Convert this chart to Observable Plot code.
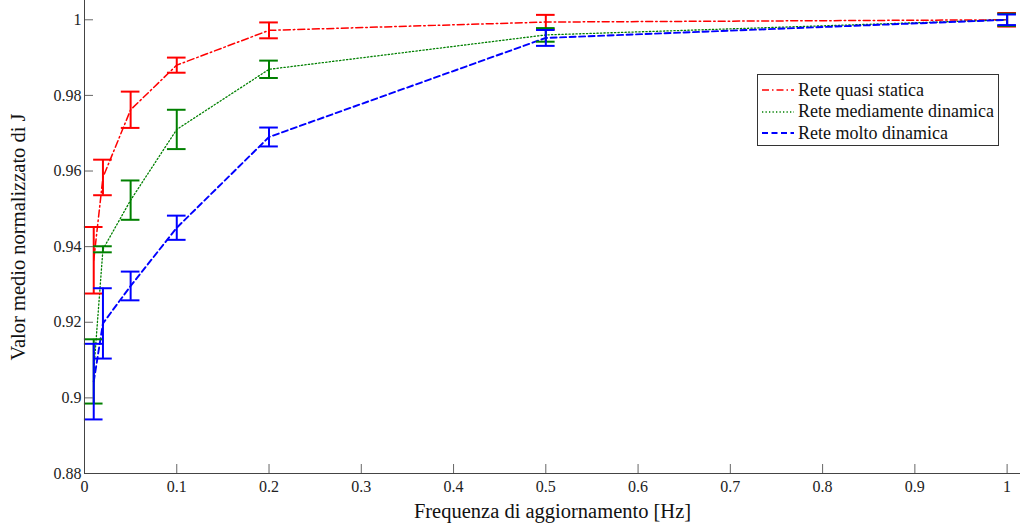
<!DOCTYPE html>
<html>
<head>
<meta charset="utf-8">
<script src="https://cdn.jsdelivr.net/npm/d3@7"></script>
<script src="https://cdn.jsdelivr.net/npm/@observablehq/plot@0.6"></script>
<style>
  html, body { margin: 0; padding: 0; background: #fff; }
  #wrap { position: relative; width: 1021px; height: 529px; font-family: "Liberation Serif", "DejaVu Serif", serif; }
  #legend { position: absolute; left: 757px; top: 74px; width: 242px; height: 72px; border: 1px solid #333; background: #fff; box-sizing: border-box; font-size: 18px; color: #111; }
  #legend .row { position: absolute; left: 4px; height: 20px; display: flex; align-items: center; white-space: nowrap; }
  #legend svg { margin-right: 4px; }
</style>
</head>
<body>
<div id="wrap"></div>
<script>
// Frequencies (x) [Hz]
const freq = [0.01, 0.02, 0.05, 0.1, 0.2, 0.5, 1];
// Series names
const seriesNames = ["Rete quasi statica", "Rete mediamente dinamica", "Rete molto dinamica"];
// Mean normalized J values
const meanStatic  = [0.9364, 0.9583, 0.9762, 0.9880, 0.9972, 0.9994, 1.0000];
const meanMedium  = [0.9070, 0.9393, 0.9523, 0.9710, 0.9869, 0.9960, 1.0000];
const meanDynamic = [0.9043, 0.9197, 0.9296, 0.9450, 0.9690, 0.9952, 1.0000];
// Error (half length of error bars)
const errStatic  = [0.0088, 0.0047, 0.0048, 0.0020, 0.0021, 0.0019, 0.0018];
const errMedium  = [0.0085, 0.0008, 0.0052, 0.0052, 0.0023, 0.0018, 0.0016];
const errDynamic = [0.0100, 0.0093, 0.0038, 0.0032, 0.0025, 0.0021, 0.0014];
// Tick values
const xTicks = [0, 0.1, 0.2, 0.3, 0.4, 0.5, 0.6, 0.7, 0.8, 0.9, 1];
const yTicks = [0.88, 0.9, 0.92, 0.94, 0.96, 0.98, 1];

const colors = ["#ff0000", "#008000", "#0000ff"];
const dashes = ["7,3,1.5,3", "1.3,2.2", "6,3.5"];
const widths = [1.5, 1.3, 1.9];

const means = [meanStatic, meanMedium, meanDynamic];
const errs = [errStatic, errMedium, errDynamic];
const series = seriesNames.map((name, i) =>
  freq.map((x, j) => ({series: name, x, y: means[i][j], e: errs[i][j]}))
);

const capHalf = 0.0101;
const marks = [];
series.forEach((data, i) => {
  marks.push(Plot.line(data, {x: "x", y: "y", stroke: colors[i], strokeWidth: widths[i], strokeDasharray: dashes[i]}));
});
series.forEach((data, i) => {
  marks.push(Plot.ruleX(data, {x: "x", y1: d => d.y - d.e, y2: d => d.y + d.e, stroke: colors[i], strokeWidth: 2}));
  marks.push(Plot.ruleY(data, {y: d => d.y - d.e, x1: d => d.x - capHalf, x2: d => d.x + capHalf, stroke: colors[i], strokeWidth: 2}));
  marks.push(Plot.ruleY(data, {y: d => d.y + d.e, x1: d => d.x - capHalf, x2: d => d.x + capHalf, stroke: colors[i], strokeWidth: 2}));
});

const chart = Plot.plot({
  width: 1021,
  height: 529,
  marginLeft: 84,
  marginRight: 1,
  marginTop: 0,
  marginBottom: 56,
  style: {fontFamily: "'Liberation Serif', 'DejaVu Serif', serif", fontSize: "16px", color: "#222", background: "#fff"},
  x: {domain: [0, 1.0145]},
  y: {domain: [0.88, 1.0051]},
  marks: [
    ...marks,
    Plot.axisX({ticks: xTicks, tickSize: -9, tickPadding: 16, tickFormat: d => String(+d.toFixed(2)), stroke: "#666", label: null, fontSize: 16}),
    Plot.axisY({ticks: yTicks, tickSize: -9, tickPadding: 12, tickFormat: d => String(+d.toFixed(2)), stroke: "#666", label: null, fontSize: 16}),
    Plot.ruleX([0], {stroke: "#444"}),
    Plot.ruleY([0.88], {stroke: "#444"}),
    Plot.text(["Frequenza di aggiornamento [Hz]"], {frameAnchor: "bottom", dy: 44, fontSize: 20.5, fill: "#111"}),
    Plot.text(["Valor medio normalizzato di J"], {frameAnchor: "left", textAnchor: "middle", lineAnchor: "middle", dx: -66, rotate: -90, fontSize: 20.5, fill: "#111"})
  ]
});

const wrap = document.getElementById("wrap");
wrap.appendChild(chart);

// Legend overlay
const legend = document.createElement("div");
legend.id = "legend";
seriesNames.forEach((name, i) => {
  const row = document.createElement("div");
  row.className = "row";
  row.style.top = (5 + i * 21.5) + "px";
  row.innerHTML = `<svg width="32" height="6"><line x1="0" y1="3" x2="32" y2="3" stroke="${colors[i]}" stroke-width="${widths[i]}" stroke-dasharray="${dashes[i]}"/></svg><span>${name}</span>`;
  legend.appendChild(row);
});
wrap.appendChild(legend);
</script>
</body>
</html>
